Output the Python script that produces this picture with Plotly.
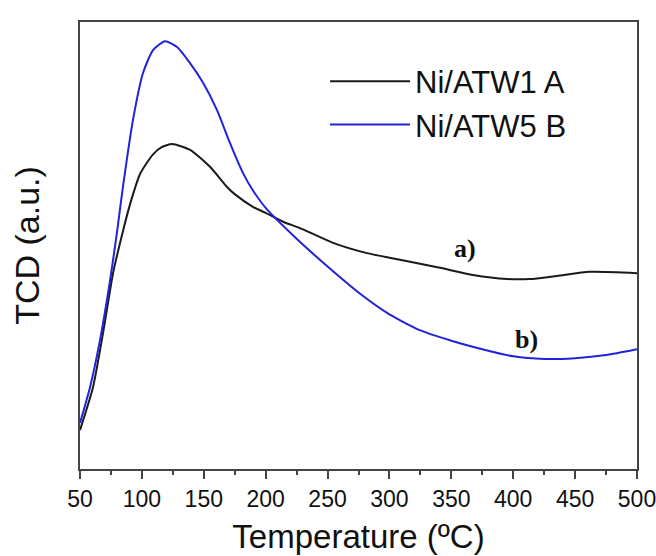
import plotly.graph_objects as go

# Temperature (°C) and TCD signal (a.u.)
temp_a = [50, 60.5, 68.6, 76.7, 84.7, 90.4, 98.5, 109.0, 116.0, 124.3, 138.9, 155.0, 168.8,
          175, 190, 200, 215, 227.7, 254.4, 281.9, 308.5, 340.8, 367.5, 395.0,
          413.5, 435.4, 462.0, 500]
tcd_a = [0.087, 0.183, 0.304, 0.438, 0.532, 0.592, 0.660, 0.704, 0.720, 0.727, 0.714, 0.676, 0.631,
         0.615, 0.586, 0.573, 0.552, 0.539, 0.506, 0.483, 0.468, 0.450, 0.434, 0.425,
         0.425, 0.432, 0.441, 0.438]

temp_b = [50, 58.1, 66.2, 74.2, 79.9, 84.7, 92.8, 100.9, 109.0, 118.7, 128.4, 138.9,
          149.4, 160.7, 171.2, 181.7, 190, 200, 225, 250, 275, 300, 325, 350, 375,
          400, 425, 450, 475, 500]
tcd_b = [0.103, 0.183, 0.289, 0.420, 0.530, 0.631, 0.781, 0.886, 0.937, 0.957, 0.944, 0.908,
         0.864, 0.803, 0.729, 0.662, 0.622, 0.584, 0.515, 0.453, 0.395, 0.346, 0.310, 0.287, 0.268,
         0.252, 0.246, 0.248, 0.255, 0.268]

names = ["Ni/ATW1 A", "Ni/ATW5 B"]
labels = ["a)", "b)"]
label_pos = [(361, 0.494), (411, 0.289)]
x_ticks = [50, 100, 150, 200, 250, 300, 350, 400, 450, 500]

fig = go.Figure()
fig.add_trace(go.Scatter(x=temp_a, y=tcd_a, mode="lines", name=names[0],
                         line=dict(color="#1a1a1a", width=2, shape="spline", smoothing=0.6)))
fig.add_trace(go.Scatter(x=temp_b, y=tcd_b, mode="lines", name=names[1],
                         line=dict(color="#2222d8", width=2, shape="spline", smoothing=0.6)))

for lab, (lx, ly) in zip(labels, label_pos):
    fig.add_annotation(x=lx, y=ly, text="<b>" + lab + "</b>", showarrow=False,
                       font=dict(family="Liberation Serif", size=26, color="#111"))

axis_line = dict(showline=True, linecolor="#444", linewidth=2, mirror=True,
                 showgrid=False, zeroline=False, automargin=False)

fig.update_layout(
    width=656, height=556,
    margin=dict(l=80, r=19, t=22, b=87),
    paper_bgcolor="white", plot_bgcolor="white",
    font=dict(family="Liberation Sans", color="#111"),
    showlegend=True,
    legend=dict(x=0.44, y=0.927, xanchor="left", yanchor="top",
                bgcolor="rgba(0,0,0,0)", font=dict(size=31, family="Liberation Sans"),
                itemwidth=80, tracegroupgap=0),
    xaxis=dict(range=[50, 500], tickvals=x_ticks, ticks="outside", ticklen=8,
               tickwidth=2, tickcolor="#444", ticklabeloverflow="allow",
               minor=dict(dtick=25, tick0=50, ticks="outside", ticklen=4, tickwidth=2, tickcolor="#444"),
               tickfont=dict(size=23),
               title=dict(text="Temperature (ºC)", font=dict(size=33), standoff=14),
               **axis_line),
    yaxis=dict(range=[0, 1], showticklabels=False, ticks="",
               title=dict(text="TCD (a.u.)", font=dict(size=34), standoff=28),
               **axis_line),
)

fig.write_html("out.html")
